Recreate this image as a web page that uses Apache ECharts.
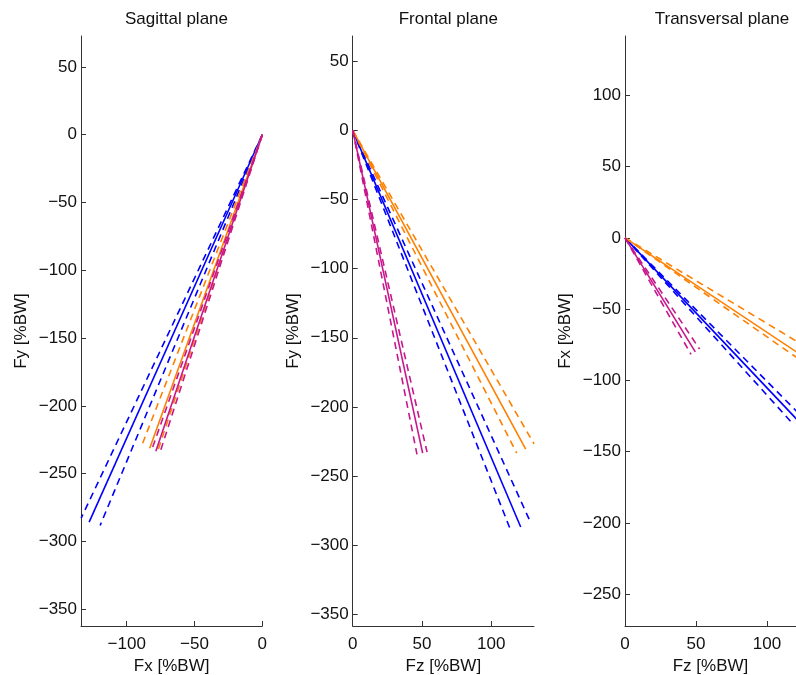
<!DOCTYPE html>
<html>
<head>
<meta charset="utf-8">
<title>Force vectors by plane</title>
<script src="https://cdn.jsdelivr.net/npm/echarts@6/dist/echarts.min.js"></script>
<style>
  html, body { margin: 0; padding: 0; background: #fff; }
  #chart { width: 796px; height: 675px; }
</style>
</head>
<body>
<div id="chart"></div>
<script>
// Group colours (in drawing order)
const groupColors = ['#0000ff', '#ff8000', '#c8168c'];

// Sagittal plane: [Fx, Fy] end points in %BW (mean vector and the two bounds)
const sagittalMean = [[-127.7, -285.7], [-83.0, -231.2], [-78.5, -233.5]];
const sagittalLow  = [[-133.6, -282.8], [-88.8, -229.0], [-81.5, -232.3]];
const sagittalHigh = [[-119.6, -288.2], [-77.1, -233.2], [-75.5, -234.5]];

// Frontal plane: [Fz, Fy]
const frontalMean = [[121.3, -286.8], [124.9, -230.5], [50.5, -233.4]];
const frontalLow  = [[113.8, -288.5], [118.4, -233.4], [46.4, -234.3]];
const frontalHigh = [[128.2, -283.0], [130.9, -226.7], [53.7, -232.7]];

// Transversal plane: [Fz, Fx]
const transversalMean = [[121.3, -127.7], [124.9, -82.8], [49.5, -80.0]];
const transversalLow  = [[124.0, -124.9], [128.5, -77.2], [52.5, -78.0]];
const transversalHigh = [[118.2, -130.5], [123.1, -85.5], [46.5, -81.8]];

// Tick labels
const sagittalXTicks = [-100, -50, 0];
const sagittalYTicks = [-350, -300, -250, -200, -150, -100, -50, 0, 50];
const frontalXTicks = [0, 50, 100];
const frontalYTicks = [-350, -300, -250, -200, -150, -100, -50, 0, 50];
const transversalXTicks = [0, 50, 100];
const transversalYTicks = [-250, -200, -150, -100, -50, 0, 50, 100];

// Axis ranges (equal scaling in every panel; the transversal panel runs off the right edge)
const sagittalXRange = [-133.7, 0];
const sagittalYRange = [-362.3, 72.8];
const frontalXRange = [0, 130.9];
const frontalYRange = [-358.4, 68.2];
const transversalXRange = [0, 120.4];
const transversalYRange = [-272.3, 141.6];

const titles = ['Sagittal plane', 'Frontal plane', 'Transversal plane'];
const xNames = ['Fx [%BW]', 'Fz [%BW]', 'Fz [%BW]'];
const yNames = ['Fy [%BW]', 'Fy [%BW]', 'Fx [%BW]'];

const FONT = '"Liberation Sans", Arial, Helvetica, sans-serif';
const minus = v => String(v).replace('-', '\u2212');

const panels = [
  { mean: sagittalMean, low: sagittalLow, high: sagittalHigh, xr: sagittalXRange, yr: sagittalYRange, xt: sagittalXTicks, yt: sagittalYTicks,
    grid: { left: 81, top: 36, width: 181.3, height: 590 }, titleX: 171.5 },
  { mean: frontalMean, low: frontalLow, high: frontalHigh, xr: frontalXRange, yr: frontalYRange, xt: frontalXTicks, yt: frontalYTicks,
    grid: { left: 352.7, top: 36, width: 181.3, height: 590 }, titleX: 443.3 },
  { mean: transversalMean, low: transversalLow, high: transversalHigh, xr: transversalXRange, yr: transversalYRange, xt: transversalXTicks, yt: transversalYTicks,
    grid: { left: 625, top: 36, width: 171, height: 590 }, titleX: 717 }
];

const axisLineStyle = { color: '#333', width: 1 };
const labelStyle = { color: '#111', fontSize: 17, fontFamily: FONT };

const grids = [], xAxes = [], yAxes = [], series = [], titleList = [];

panels.forEach((p, i) => {
  grids.push(Object.assign({ containLabel: false, outerBoundsMode: 'none' }, p.grid));
  titleList.push({
    text: titles[i],
    left: p.titleX,
    top: 6,
    textAlign: 'center',
    textStyle: { fontSize: 17, fontWeight: 'normal', color: '#111', fontFamily: FONT }
  });
  xAxes.push({
    gridIndex: i, type: 'value', min: p.xr[0], max: p.xr[1],
    name: xNames[i], nameLocation: 'middle', nameGap: 27,
    nameTextStyle: { fontSize: 17, color: '#111', fontFamily: FONT },
    axisLine: { onZero: false, lineStyle: axisLineStyle },
    axisTick: { inside: true, length: 5, customValues: p.xt, lineStyle: axisLineStyle },
    axisLabel: Object.assign({ margin: 10, customValues: p.xt, formatter: minus, showMinLabel: true, showMaxLabel: true }, labelStyle),
    splitLine: { show: false }
  });
  yAxes.push({
    gridIndex: i, type: 'value', min: p.yr[0], max: p.yr[1],
    name: yNames[i], nameLocation: 'middle', nameGap: 51, nameRotate: 90,
    nameTextStyle: { fontSize: 17, color: '#111', fontFamily: FONT },
    axisLine: { onZero: false, lineStyle: axisLineStyle },
    axisTick: { inside: true, length: 5, customValues: p.yt, lineStyle: axisLineStyle },
    axisLabel: Object.assign({ margin: 4, customValues: p.yt, formatter: minus }, labelStyle),
    splitLine: { show: false }
  });
  groupColors.forEach((c, g) => {
    const mk = (end, dashed) => ({
      type: 'line', xAxisIndex: i, yAxisIndex: i,
      data: [[0, 0], end],
      showSymbol: false, symbol: 'none', silent: true, animation: false,
      lineStyle: { color: c, width: 1.6, type: dashed ? [7, 5] : 'solid' }
    });
    series.push(mk(p.mean[g], false));
    series.push(mk(p.low[g], true));
    series.push(mk(p.high[g], true));
  });
});

const chart = echarts.init(document.getElementById('chart'), null, { renderer: 'canvas' });
chart.setOption({
  backgroundColor: '#fff',
  animation: false,
  title: titleList,
  grid: grids,
  xAxis: xAxes,
  yAxis: yAxes,
  series: series
});
</script>
</body>
</html>
